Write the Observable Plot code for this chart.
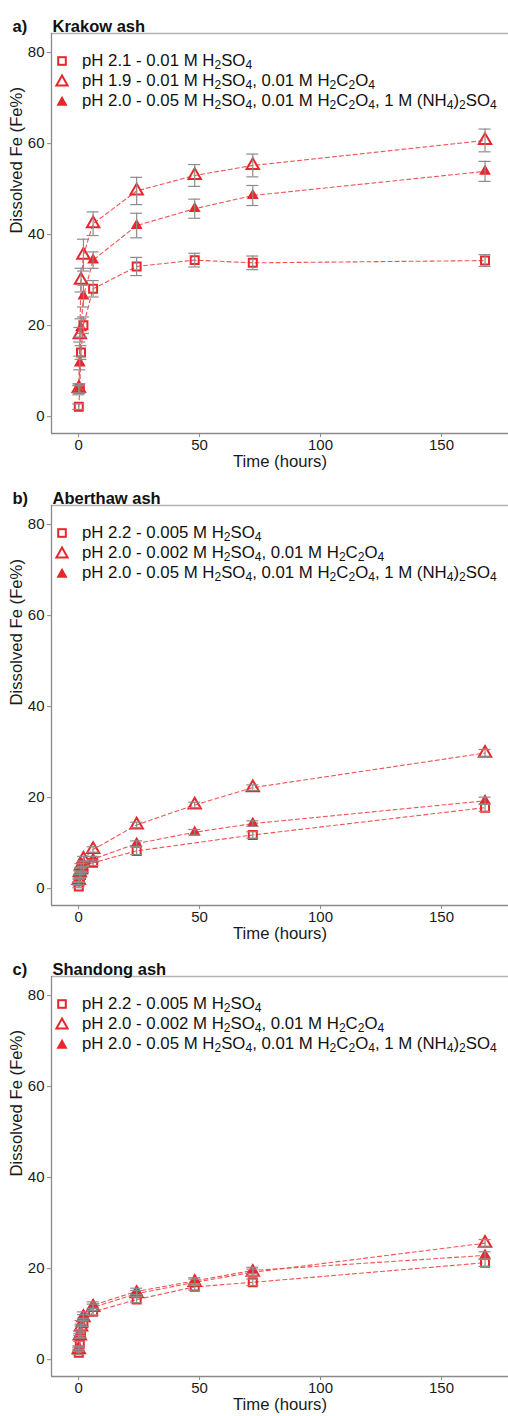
<!DOCTYPE html>
<html><head><meta charset="utf-8">
<script src="https://cdn.jsdelivr.net/npm/d3@7"></script>
<script src="https://cdn.jsdelivr.net/npm/@observablehq/plot@0.6"></script>
<style>
body{margin:0;background:#fff;font-family:"Liberation Sans",Arial,sans-serif;}
.panel{position:relative;width:508px;overflow:hidden;}
.panel svg.plot{display:block;}
.legend{position:absolute;left:54px;top:51px;font-size:16.8px;color:#111;}
.legend .row{height:20px;display:flex;align-items:center;white-space:nowrap;}
.legend .sym{width:16px;height:16px;margin-right:12px;flex:none;}
sub{font-size:72%;vertical-align:-0.28em;line-height:0;}
</style></head><body><div id="root"></div>
<script>
// ---- data ----
const times = [0.083, 0.5, 1, 2, 6, 24, 48, 72, 168];
const xTicks = [0, 50, 100, 150];
const yTicks = [0, 20, 40, 60, 80];
const seriesKeys = ["square", "openTri", "filledTri"];

const panelLetters = ["a)", "b)", "c)"];
const panelTitles = ["Krakow ash", "Aberthaw ash", "Shandong ash"];

// Krakow
const krakowSquare = [2.2, 6.2, 14.1, 20.1, 28.1, 33.0, 34.4, 33.8, 34.3];
const krakowSquareErr = [0.6, 1.0, 1.5, 1.8, 1.8, 2.0, 1.5, 1.5, 1.3];
const krakowOpen = [6.2, 18.0, 30.0, 35.5, 42.4, 49.6, 53.0, 55.2, 60.7];
const krakowOpenErr = [1.0, 1.6, 2.6, 3.5, 2.6, 3.0, 2.4, 2.5, 2.5];
const krakowFilled = [5.8, 11.8, 19.5, 26.5, 34.4, 42.0, 45.7, 48.6, 53.9];
const krakowFilledErr = [1.0, 1.5, 2.0, 2.4, 1.8, 2.7, 2.1, 2.2, 2.2];

// Aberthaw
const aberSquare = [0.5, 1.8, 3.0, 4.2, 5.7, 8.3, null, 11.8, 17.8];
const aberSquareErr = [0.3, 0.4, 0.5, 0.6, 0.6, 0.8, null, 0.7, 0.8];
const aberOpen = [1.8, 3.5, 5.0, 6.5, 8.6, 14.0, 18.4, 22.2, 29.8];
const aberOpenErr = [0.3, 0.4, 0.5, 0.6, 0.6, 0.6, 0.6, 0.6, 0.8];
const aberFilled = [1.2, 2.8, 4.2, 5.5, 6.5, 9.9, 12.4, 14.3, 19.3];
const aberFilledErr = [0.3, 0.4, 0.5, 0.6, 0.6, 0.6, 0.6, 0.6, 0.8];

// Shandong
const shanSquare = [1.5, 3.5, 5.5, 8.0, 10.5, 13.2, 16.0, 17.0, 21.3];
const shanSquareErr = [0.4, 0.5, 0.6, 0.7, 0.7, 0.7, 0.7, 0.7, 0.8];
const shanOpen = [2.2, 5.2, 7.2, 9.2, 11.5, 14.5, 17.0, 19.2, 25.6];
const shanOpenErr = [0.4, 0.5, 0.6, 0.7, 0.7, 0.7, 0.7, 0.7, 0.8];
const shanFilled = [2.6, 5.8, 8.0, 9.8, 12.0, 15.0, 17.3, 19.6, 22.9];
const shanFilledErr = [0.4, 0.5, 0.6, 0.7, 0.7, 0.7, 0.7, 0.7, 0.8];

const legendA = [
  "pH 2.1 - 0.01 M H<sub>2</sub>SO<sub>4</sub>",
  "pH 1.9 - 0.01 M H<sub>2</sub>SO<sub>4</sub>, 0.01 M H<sub>2</sub>C<sub>2</sub>O<sub>4</sub>",
  "pH 2.0 - 0.05 M H<sub>2</sub>SO<sub>4</sub>, 0.01 M H<sub>2</sub>C<sub>2</sub>O<sub>4</sub>, 1 M (NH<sub>4</sub>)<sub>2</sub>SO<sub>4</sub>"
];
const legendBC = [
  "pH 2.2 - 0.005 M H<sub>2</sub>SO<sub>4</sub>",
  "pH 2.0 - 0.002 M H<sub>2</sub>SO<sub>4</sub>, 0.01 M H<sub>2</sub>C<sub>2</sub>O<sub>4</sub>",
  "pH 2.0 - 0.05 M H<sub>2</sub>SO<sub>4</sub>, 0.01 M H<sub>2</sub>C<sub>2</sub>O<sub>4</sub>, 1 M (NH<sub>4</sub>)<sub>2</sub>SO<sub>4</sub>"
];

const xLabel = "Time (hours)";
const yLabel = "Dissolved Fe (Fe%)";

// ---- styles ----
const RED = "#e8262b";
const LINE = "#f04a4a";
const ERR = "#8c8c8c";
const FONT = "'Liberation Sans', Arial, sans-serif";
const xDomain = [-11.2, 177.7];
const yDomain = [-3.7, 84.2];

const panels = [
  {vals: [krakowSquare, krakowOpen, krakowFilled], errs: [krakowSquareErr, krakowOpenErr, krakowFilledErr], legend: legendA, height: 472},
  {vals: [aberSquare, aberOpen, aberFilled], errs: [aberSquareErr, aberOpenErr, aberFilledErr], legend: legendBC, height: 471},
  {vals: [shanSquare, shanOpen, shanFilled], errs: [shanSquareErr, shanOpenErr, shanFilledErr], legend: legendBC, height: 473}
];

const legendSymbols = [
  '<svg class="sym" viewBox="0 0 16 16"><rect x="4.2" y="4.2" width="7.6" height="7.6" fill="none" stroke="' + RED + '" stroke-width="2"/></svg>',
  '<svg class="sym" viewBox="0 0 16 16"><path d="M8 2.6 L13.6 12.6 L2.4 12.6 Z" fill="none" stroke="' + RED + '" stroke-width="2" stroke-linejoin="miter"/></svg>',
  '<svg class="sym" viewBox="0 0 16 16"><path d="M8 2.8 L13.5 12.8 L2.5 12.8 Z" fill="' + RED + '"/></svg>'
];

const root = document.getElementById("root");

panels.forEach((p, pi) => {
  const rows = [];
  seriesKeys.forEach((k, si) => {
    p.vals[si].forEach((v, j) => {
      if (v != null) rows.push({series: k, t: times[j], v, e: p.errs[si][j]});
    });
  });
  const sq = rows.filter(d => d.series === "square");
  const op = rows.filter(d => d.series === "openTri");
  const fi = rows.filter(d => d.series === "filledTri");

  const plot = Plot.plot({
    width: 508,
    height: p.height,
    marginTop: 33,
    marginBottom: p.height - 433,
    marginLeft: 51,
    marginRight: 0,
    x: {domain: xDomain},
    y: {domain: yDomain},
    style: {fontFamily: FONT, fontSize: "15px", color: "#1a1a1a", background: "#fff"},
    marks: [
      Plot.ruleY([yDomain[1]], {stroke: "#b4b4b4", strokeWidth: 1.5}),
      Plot.ruleX([xDomain[0]], {stroke: "#8a8a8a", strokeWidth: 1.3}),
      Plot.ruleY([yDomain[0]], {stroke: "#8a8a8a", strokeWidth: 1.3}),
      Plot.axisX({ticks: xTicks, tickSize: 4, tickPadding: 2, label: null, stroke: "#8a8a8a", fill: "#1a1a1a", fontSize: 15}),
      Plot.axisY({ticks: yTicks, tickSize: 4, tickPadding: 3, label: null, stroke: "#8a8a8a", fill: "#1a1a1a", fontSize: 15}),
      Plot.line(rows, {x: "t", y: "v", z: "series", stroke: LINE, strokeWidth: 1.1, strokeDasharray: "4,3", strokeOpacity: 0.95}),
      Plot.dot(sq, {x: "t", y: "v", symbol: "square", r: 4.5, fill: "white", fillOpacity: 0, stroke: RED, strokeWidth: 2}),
      Plot.dot(op, {x: "t", y: "v", symbol: "triangle", r: 4.6, fill: "none", stroke: RED, strokeWidth: 2}),
      Plot.dot(fi, {x: "t", y: "v", symbol: "triangle", r: 4.4, fill: RED, stroke: "none"}),
      Plot.ruleX(rows, {x: "t", y1: d => d.v - d.e, y2: d => d.v + d.e, stroke: ERR, strokeWidth: 1.2}),
      Plot.ruleY(rows, {y: d => d.v + d.e, x1: "t", x2: "t", insetLeft: -6, insetRight: -6, stroke: ERR, strokeWidth: 1.2}),
      Plot.ruleY(rows, {y: d => d.v - d.e, x1: "t", x2: "t", insetLeft: -6, insetRight: -6, stroke: ERR, strokeWidth: 1.2}),
      Plot.text([panelLetters[pi]], {text: d => d, frameAnchor: "top-left", dx: -39, dy: -13, textAnchor: "start", fontWeight: "bold", fontSize: 16.5, fill: "#111"}),
      Plot.text([panelTitles[pi]], {text: d => d, frameAnchor: "top-left", dx: 1, dy: -13, textAnchor: "start", fontWeight: "bold", fontSize: 16.5, fill: "#111"}),
      Plot.text([xLabel], {text: d => d, frameAnchor: "bottom", dy: 33, fontSize: 16.7, fill: "#1a1a1a"}),
      Plot.text([yLabel], {text: d => d, frameAnchor: "left", dx: -35, rotate: -90, fontSize: 16.7, fill: "#1a1a1a"})
    ]
  });
  plot.classList.add("plot");

  const div = document.createElement("div");
  div.className = "panel";
  div.style.height = p.height + "px";
  div.appendChild(plot);
  const leg = document.createElement("div");
  leg.className = "legend";
  leg.innerHTML = p.legend.map((t, i) => '<div class="row">' + legendSymbols[i] + '<span>' + t + '</span></div>').join("");
  div.appendChild(leg);
  root.appendChild(div);
});
</script></body></html>
